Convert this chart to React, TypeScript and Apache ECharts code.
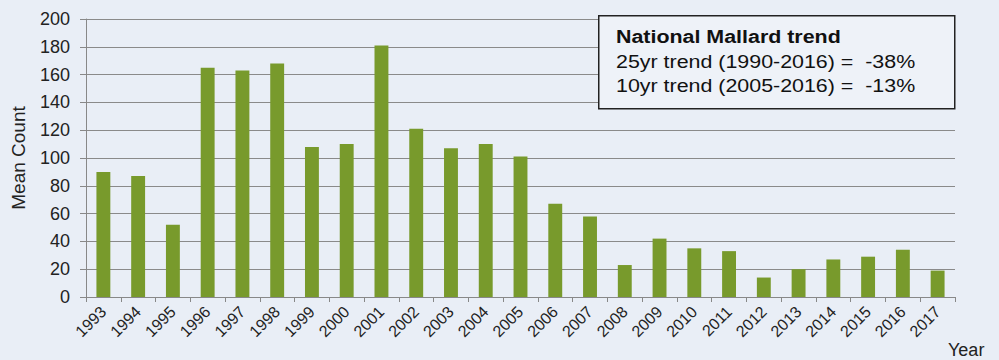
import React, { useEffect, useRef } from "react";
import * as echarts from "echarts";

const years = ["1993","1994","1995","1996","1997","1998","1999","2000","2001","2002","2003","2004","2005","2006","2007","2008","2009","2010","2011","2012","2013","2014","2015","2016","2017"];
const meanCount = [90, 87, 52, 165, 163, 168, 108, 110, 181, 121, 107, 110, 101, 67, 58, 23, 42, 35, 33, 14, 20, 27, 29, 34, 19];
const boxTitle = "National Mallard trend";
const boxLines = ["25yr trend (1990-2016) =  -38%", "10yr trend (2005-2016) =  -13%"];

export default function App() {
  const ref = useRef<HTMLDivElement>(null);
  useEffect(() => {
    if (!ref.current) return;
    const chart = echarts.init(ref.current, null, { renderer: "svg" });
    const font = "'Liberation Sans', Arial, sans-serif";
    const sx = 1.19;
    chart.setOption({
      animation: false,
      backgroundColor: "#e9eef6",
      textStyle: { fontFamily: font },
      grid: { left: 86, right: 44, top: 19, bottom: 63 },
      xAxis: {
        type: "category",
        data: years,
        boundaryGap: true,
        axisLine: { lineStyle: { color: "#888", width: 1 } },
        axisTick: { show: true, length: 5, lineStyle: { color: "#888" } },
        axisLabel: { rotate: 45, color: "#222", fontSize: 16, fontFamily: font, margin: 12 },
        name: "Year",
        nameLocation: "end",
        nameGap: -7,
        nameTextStyle: { color: "#222", fontSize: 18, fontFamily: font, align: "left", verticalAlign: "top", padding: [44, 0, 0, 0] },
      },
      yAxis: {
        type: "value",
        min: 0,
        max: 200,
        interval: 20,
        axisLine: { show: true, lineStyle: { color: "#888" } },
        axisTick: { show: true, inside: false, length: 6, lineStyle: { color: "#888" } },
        splitLine: { show: true, lineStyle: { color: "#8a8a8a", width: 1 } },
        axisLabel: { color: "#222", fontSize: 18, fontFamily: font, margin: 16 },
        name: "Mean Count",
        nameLocation: "middle",
        nameGap: 58,
        nameTextStyle: { color: "#222", fontSize: 19, fontFamily: font },
      },
      series: [
        {
          type: "bar",
          data: meanCount,
          barWidth: "40%",
          itemStyle: { color: "#789a2c" },
        },
      ],
      graphic: [
        {
          type: "rect",
          left: 598,
          top: 15,
          shape: { width: 356, height: 93 },
          style: { fill: "#eef2f8", stroke: "#222", lineWidth: 1.5 },
          z: 10,
        },
        {
          type: "text",
          x: 616,
          y: 28,
          scaleX: sx,
          style: { text: boxTitle, fill: "#111", font: `bold 18px ${font}`, verticalAlign: "top" },
          z: 11,
        },
        {
          type: "text",
          x: 616,
          y: 53,
          scaleX: sx,
          style: { text: boxLines[0], fill: "#111", font: `18px ${font}`, verticalAlign: "top" },
          z: 11,
        },
        {
          type: "text",
          x: 616,
          y: 77,
          scaleX: sx,
          style: { text: boxLines[1], fill: "#111", font: `18px ${font}`, verticalAlign: "top" },
          z: 11,
        },
      ],
    });
    return () => chart.dispose();
  }, []);
  return <div ref={ref} style={{ width: 999, height: 360, position: "absolute", left: 0, top: 0 }} />;
}
